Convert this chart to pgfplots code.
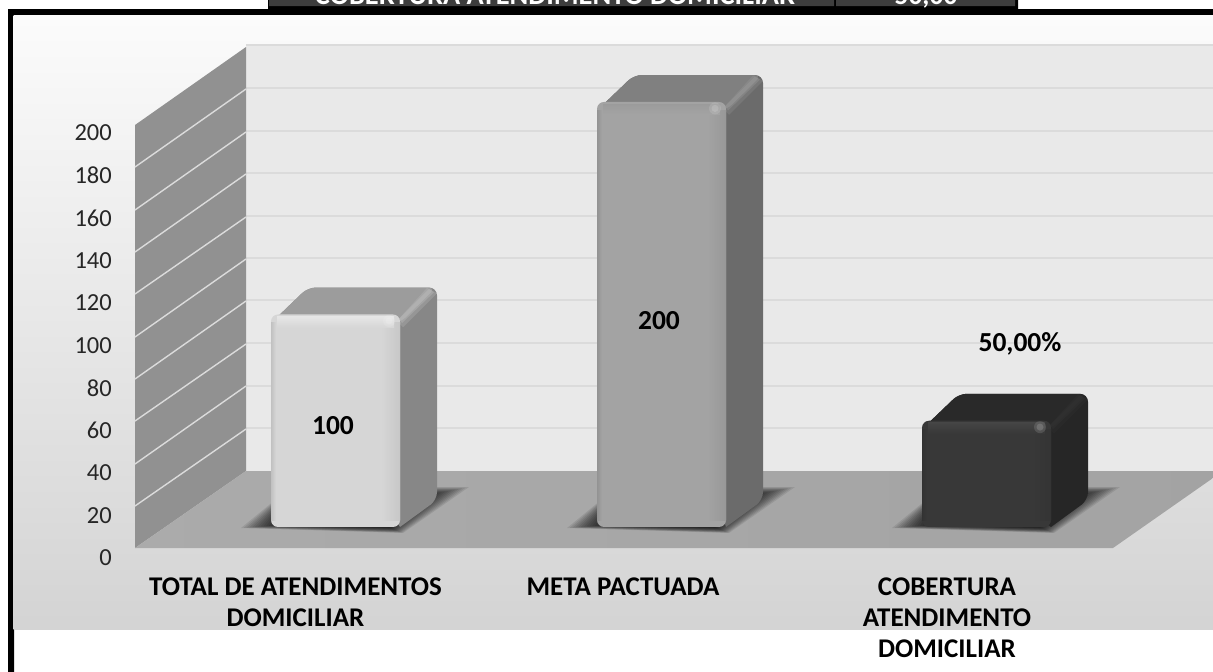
\documentclass[border=0pt]{standalone}
\usepackage{fontspec}
\setmainfont{Carlito}
\usepackage{pgfplots}
\pgfplotsset{compat=1.18}

% one picture pixel = 1pt; the decor axis counts y downwards like the image
\pgfplotsset{
  canvas/.style={
    scale only axis, width=1213pt, height=672pt, at={(0pt,0pt)}, anchor=south west,
    xmin=0, xmax=1213, hide axis, clip=false,
  },
}
\definecolor{wallc}{gray}{0.915}
\definecolor{gridc}{gray}{0.86}
\definecolor{sidewall}{gray}{0.57}
\definecolor{cellc}{gray}{0.24}
\definecolor{faceA}{gray}{0.84}
\definecolor{bevelA}{gray}{0.90}
\definecolor{faceB}{gray}{0.64}
\definecolor{bevelB}{gray}{0.61}
\definecolor{faceC}{gray}{0.22}
\definecolor{bevelC}{gray}{0.27}

% side and top of one bar: #1 left x, #2 value, #3 side colour, #4 top colour, #5 ridge colour
\newcommand{\barbody}[5]{%
  \pgfmathsetmacro{\xa}{#1+129}%
  \pgfmathsetmacro{\xb}{#1+166}%
  \pgfmathsetmacro{\xc}{#1+37}%
  \pgfmathsetmacro{\xd}{#1+165}%
  \pgfmathsetmacro{\xe}{#1+60}%
  \pgfmathsetmacro{\yb}{#2+12.7}%
  \pgfmathsetmacro{\yd}{#2-4}%
  \pgfmathsetmacro{\ye}{#2/2}%
  \addplot[draw=none, fill=#3, rounded corners=8pt] coordinates {(\xa,0) (\xb,12.7) (\xb,\yb) (\xc,\yb) (#1,\yd) (\xe,\ye) (\xa,0)};
  \addplot[draw=none, fill=#4, rounded corners=8pt] coordinates {(#1,\yd) (\xc,\yb) (\xd,\yb) (\xa,\yd) (#1,\yd)};
  \fill[#5, opacity=.22] (axis cs:#1+126,#2-3) -- (axis cs:#1+156,#2+12.5) -- (axis cs:#1+166,#2+10) -- (axis cs:#1+132,#2-6) -- cycle;
  \fill[#5, opacity=.28] (axis cs:#1+128,#2-2) -- (axis cs:#1+158,#2+12) -- (axis cs:#1+163,#2+10.5) -- (axis cs:#1+131,#2-4) -- cycle;
}
% bevel strips on the front: #1 left x, #2 value, #3 face colour, #4 bevel colour
\newcommand{\barbevel}[4]{%
  \fill[left color=#3!90!black, right color=#3] (axis cs:#1,3) rectangle (axis cs:#1+5,#2-4);
  \fill[left color=#3, middle color=#4, right color=#3!93!black] (axis cs:#1+110,3) rectangle (axis cs:#1+129,#2-4);
  \fill[top color=#4, bottom color=#3] (axis cs:#1+6,#2-1) rectangle (axis cs:#1+123,#2-6);
  \fill[white, opacity=.12] (axis cs:#1+118,#2-3) circle[radius=6pt];
  \fill[white, opacity=.15] (axis cs:#1+118,#2-3) circle[radius=3.5pt];
}
% soft contact shadow built from nested polygons, #1 left x of the bar
\newcommand{\barshadow}[1]{%
  \pgfplotsinvokeforeach{0,2,4,6,8,10,12,14,16,18,20,22,24,26,28}{
    \fill[black, opacity=.09] (axis cs:#1-30+##1*1.4,528-##1/9) -- (axis cs:#1+20,487+##1/3)
      -- (axis cs:#1+198-##1*1.7,487+##1/3) -- (axis cs:#1+132-##1/2,533-##1/5) -- cycle;
  }
}

\begin{document}
\begin{tikzpicture}[x=1pt,y=1pt]
\useasboundingbox (0,0) rectangle (1213,672);

% page, frame and plot area
\begin{axis}[canvas, ymin=0, ymax=672, y dir=reverse]
\addplot[draw=none, fill=white] coordinates {(0,0) (1213,0) (1213,672) (0,672) (0,0)};
\addplot[draw=none, fill=black] coordinates {(8,9) (1213,9) (1213,16) (14,16) (14,672) (8,672) (8,9)};
\addplot[draw=none, fill=black] coordinates {(268,0) (1018,0) (1018,10) (268,10) (268,0)};
\addplot[draw=none, fill=cellc] coordinates {(269,0) (834,0) (834,6) (269,6) (269,0)};
\addplot[draw=none, fill=cellc] coordinates {(836,0) (1015,0) (1015,6) (836,6) (836,0)};
\node[white, anchor=base, font=\bfseries\fontsize{28.4}{32}\selectfont, inner sep=0pt] at (axis cs:555,4.5) {COBERTURA ATENDIMENTO DOMICILIAR};
\node[white, anchor=base, font=\bfseries\fontsize{27.5}{32}\selectfont, inner sep=0pt] at (axis cs:926,4.5) {50,00};
\addplot[draw=none, top color=black!1.5, bottom color=black!17] coordinates {(13.5,15) (1213,15) (1213,629) (13.5,629) (13.5,15)};

% back wall with its grid
\addplot[draw=none, fill=wallc] coordinates {(246,45) (1213,45) (1213,471) (246,471) (246,45)};
\addplot[gridc, line width=1.4pt] coordinates {(246,45) (1213,45)};
\addplot[gridc, line width=1.4pt] coordinates {(246,88) (1213,88)};
\addplot[gridc, line width=1.4pt] coordinates {(246,131) (1213,131)};
\addplot[gridc, line width=1.4pt] coordinates {(246,173) (1213,173)};
\addplot[gridc, line width=1.4pt] coordinates {(246,216) (1213,216)};
\addplot[gridc, line width=1.4pt] coordinates {(246,258) (1213,258)};
\addplot[gridc, line width=1.4pt] coordinates {(246,300) (1213,300)};
\addplot[gridc, line width=1.4pt] coordinates {(246,343) (1213,343)};
\addplot[gridc, line width=1.4pt] coordinates {(246,386) (1213,386)};
\addplot[gridc, line width=1.4pt] coordinates {(246,428) (1213,428)};

% side wall
\addplot[draw=none, fill=sidewall] coordinates {(135,125) (246,47) (246,471) (135,548) (135,125)};
\addplot[gridc, line width=1.4pt] coordinates {(135,167) (246,89)};
\addplot[gridc, line width=1.4pt] coordinates {(135,210) (246,132)};
\addplot[gridc, line width=1.4pt] coordinates {(135,252) (246,174)};
\addplot[gridc, line width=1.4pt] coordinates {(135,294) (246,217)};
\addplot[gridc, line width=1.4pt] coordinates {(135,337) (246,259)};
\addplot[gridc, line width=1.4pt] coordinates {(135,379) (246,301)};
\addplot[gridc, line width=1.4pt] coordinates {(135,421) (246,344)};
\addplot[gridc, line width=1.4pt] coordinates {(135,464) (246,386)};
\addplot[gridc, line width=1.4pt] coordinates {(135,506) (246,429)};

% floor
\addplot[draw=none, left color=black!33, right color=black!36] coordinates {(135,548) (246,471) (1213,471) (1213,478) (1113,548) (135,548)};
\barshadow{271}
\barshadow{597}
\barshadow{922}
\end{axis}

% the bars: y=0 at pixel row 527, 2.125 pixels a unit
\begin{axis}[canvas, ymin=-68.235, ymax=248]
\barbody{271}{100}{black!47}{black!39}{black!20}
\addplot[ybar, bar width=129pt, draw=none, fill=faceA, rounded corners=7pt] coordinates {(335.5,100)};
\barbevel{271}{100}{faceA}{bevelA}
\node[font=\bfseries\fontsize{27.5}{30}\selectfont] at (axis cs:333,47.5) {100};

\barbody{597}{200}{black!58}{black!50}{black!35}
\addplot[ybar, bar width=129pt, draw=none, fill=faceB, rounded corners=7pt] coordinates {(661.5,200)};
\barbevel{597}{200}{faceB}{bevelB}
\node[font=\bfseries\fontsize{27.5}{30}\selectfont] at (axis cs:659,97) {200};

\barbody{922}{50}{black!85}{black!84}{black!78}
\addplot[ybar, bar width=129pt, draw=none, fill=faceC, rounded corners=7pt] coordinates {(986.5,50)};
\barbevel{922}{50}{faceC}{bevelC}
\node[font=\bfseries\fontsize{27.5}{30}\selectfont] at (axis cs:1020,86) {50,00\%};
\end{axis}

% tick labels: 0 at pixel row 557, category labels below pixel row 573
\begin{axis}[
  scale only axis, width=1101pt, height=441pt, at={(112pt,98pt)}, anchor=south west,
  xmin=112, xmax=1213, ymin=-7.53, ymax=200,
  axis lines=left, axis line style={draw=none}, major tick length=0pt,
  ytick={0,20,...,200},
  xtick={295.5,623,947},
  xticklabels={{TOTAL DE ATENDIMENTOS\\DOMICILIAR},{META PACTUADA},{COBERTURA\\ATENDIMENTO\\DOMICILIAR}},
  /pgf/number format/assume math mode=true,
  y tick label style={font=\fontsize{24.5}{28}\selectfont, text=black!85, inner xsep=0pt},
  x tick label style={font=\bfseries\fontsize{27}{31}\selectfont, align=center, anchor=north, inner ysep=0pt, yshift=-4pt},
  clip=false,
]
\addplot[draw=none] coordinates {(200,0) (200,200)};
\end{axis}
\end{tikzpicture}
\end{document}
